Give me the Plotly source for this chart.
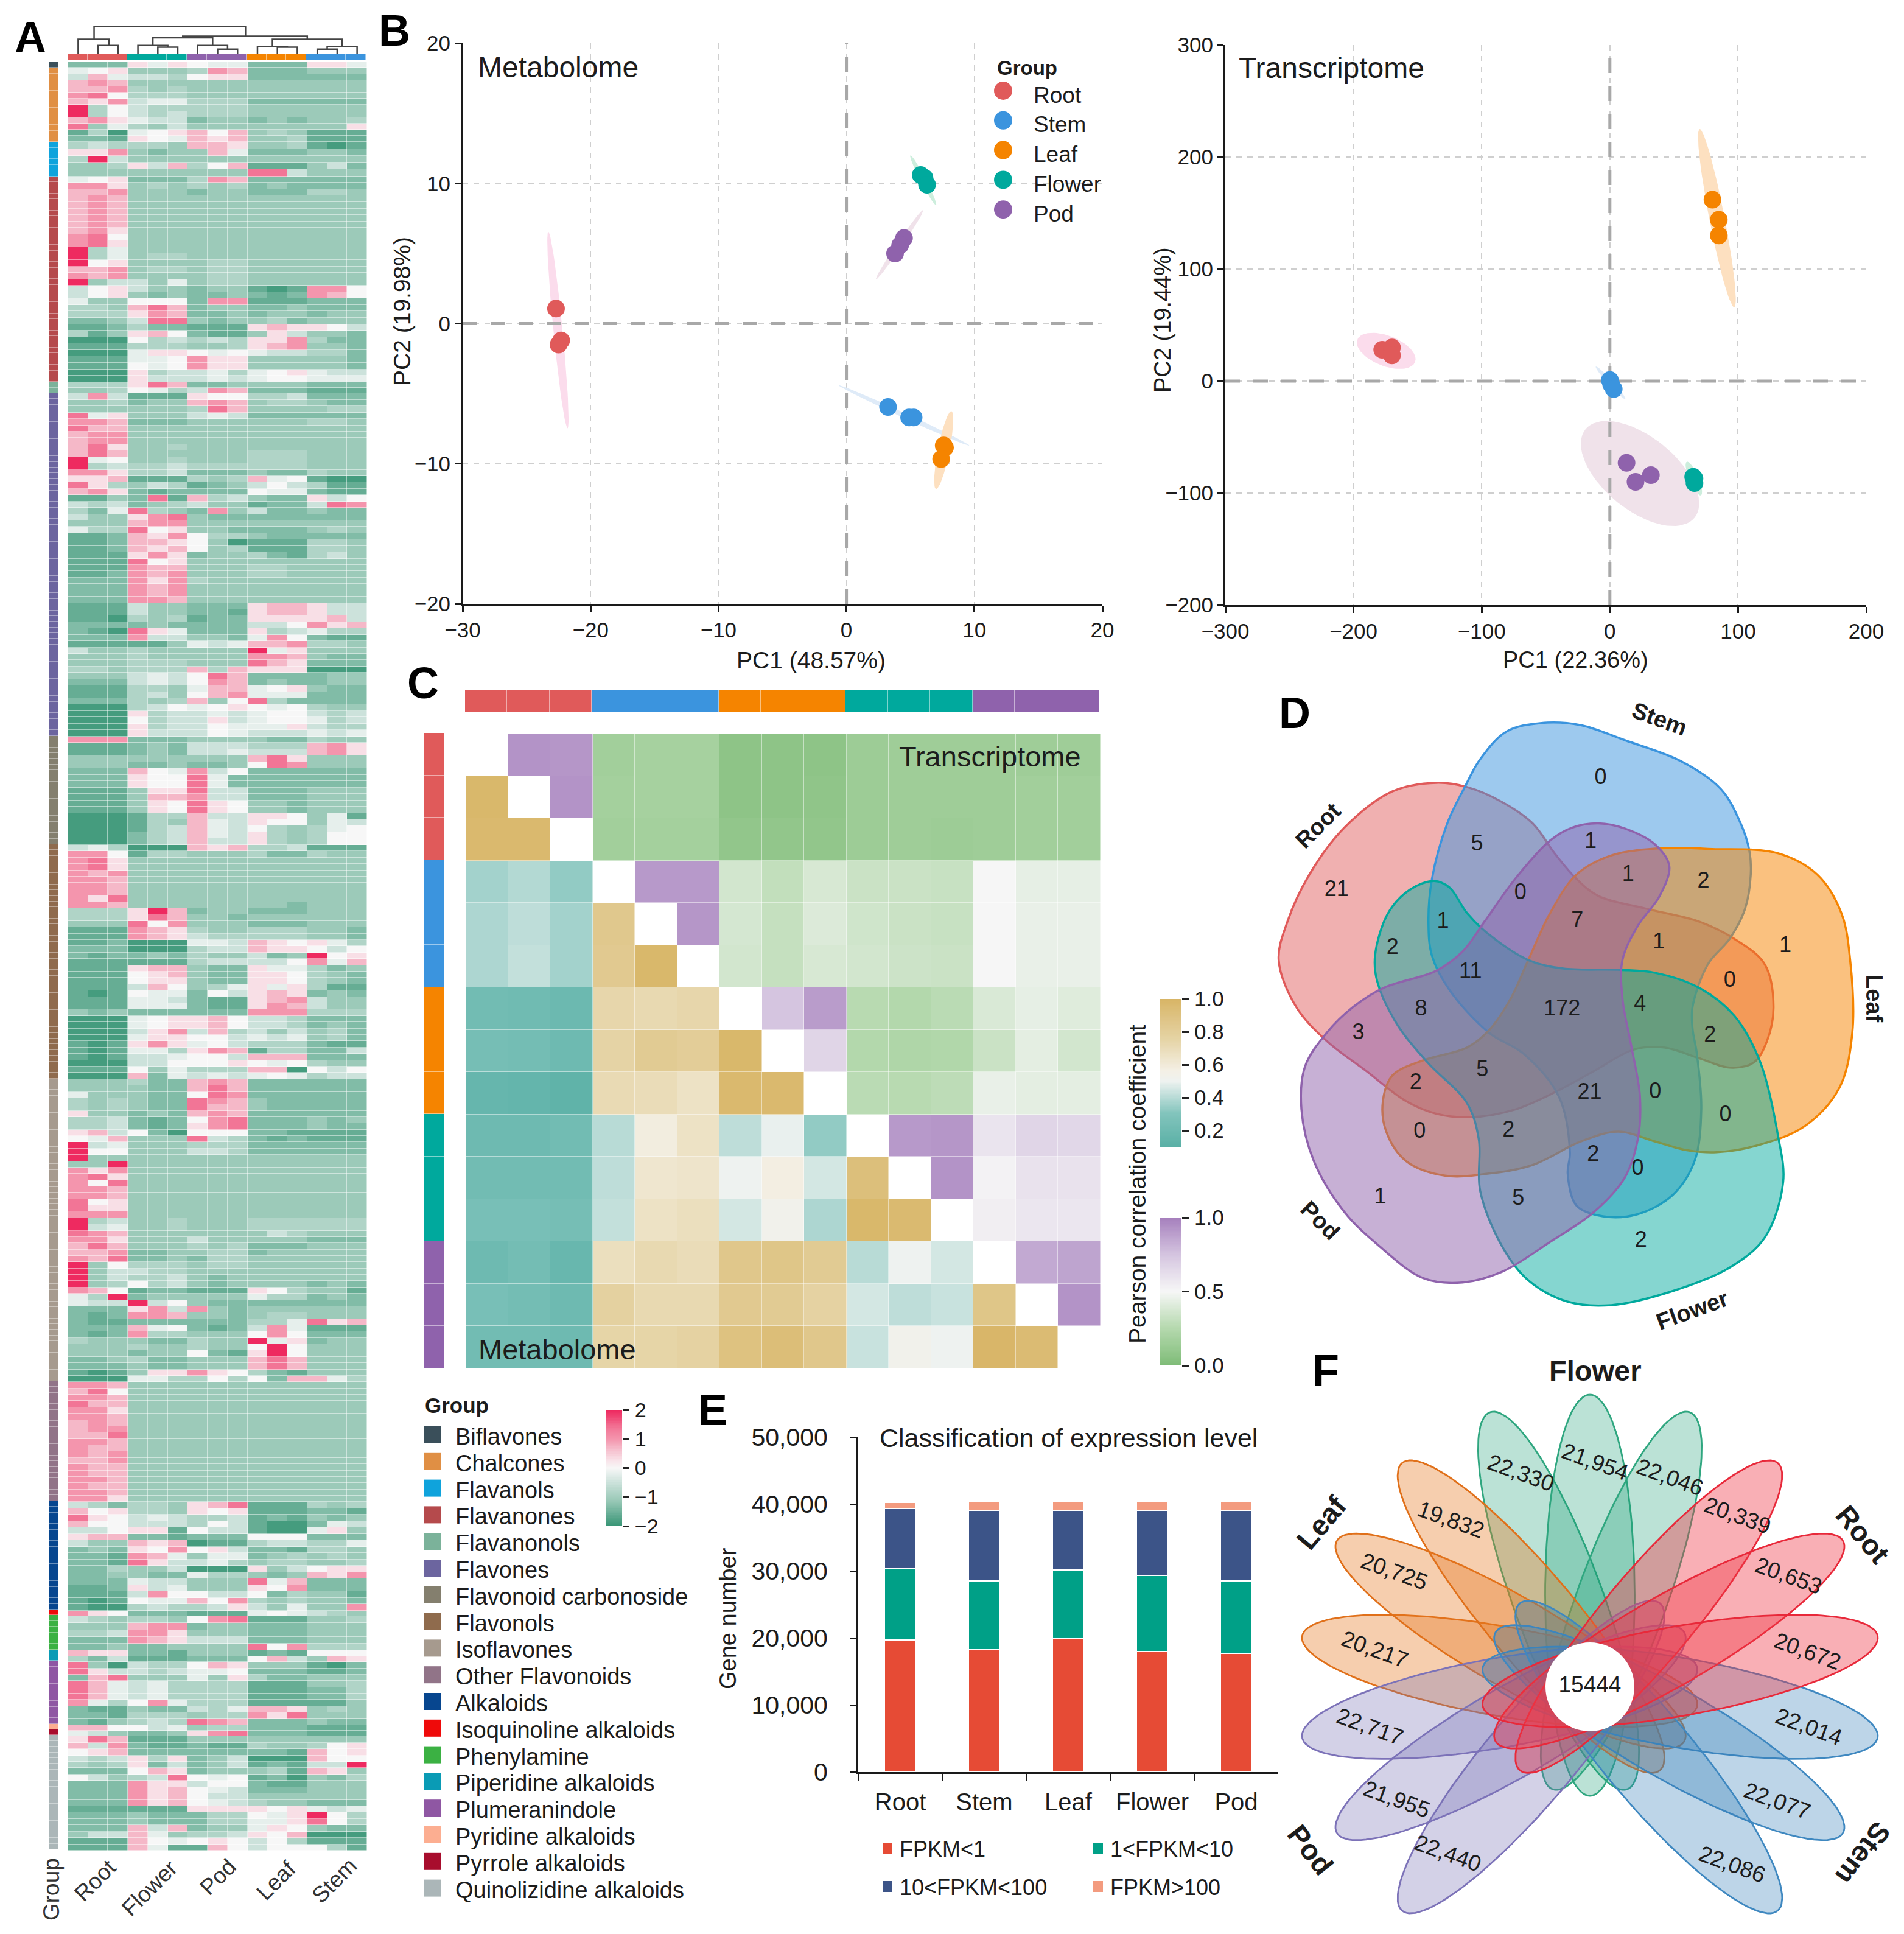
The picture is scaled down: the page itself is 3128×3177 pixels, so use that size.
import numpy as np
import plotly.graph_objects as go

W, H = 3128, 3177
FONT = "Liberation Sans"

# ---- Panel A: heatmap, one string per band of rows, columns are Root, Flower, Pod, Leaf, Stem
# characters are an index into heat_levels
heat_levels = [-1.9, -1.6, -1.35, -1.1, -0.85, -0.5, -0.2, 0, 0.3, 0.7, 1.0, 1.4, 2.0]
heat_cols = ["Root", "Flower", "Pod", "Leaf", "Stem"]

heat_biflavones = ["222 868 766 222 886"]
heat_chalcones = [
    "678 333 4a9 222 333", "596 554 788 222 222", "9a9 333 333 333 333", "99a 434 333 333 333",
    "ab7 444 333 333 333", "98a 566 444 222 222", "c47 544 444 333 333", "c47 545 444 333 333",
    "9a8 655 233 232 334", "b36 435 333 333 338", "140 678 979 343 111", "221 876 989 334 111",
]
heat_flavanols = [
    "454 443 998 334 101", "88a 323 396 222 332", "4c5 333 333 333 333",
    "334 859 479 111 352", "333 333 333 bb5 333",
]
heat_flavanones = [
    "678 222 4a9 222 222", "aa8 343 434 232 222", "99a 333 233 222 443", "9a9 333 333 333 333",
    "9a9 333 333 333 333", "9a9 333 333 333 333", "9a9 333 333 333 333", "9a9 333 333 333 333",
    "9a8 333 333 333 333", "ab7 333 333 333 333", "ab8 333 333 333 333", "c46 333 333 333 333",
    "c46 344 333 333 333", "c78 333 344 333 333", "99a 344 344 333 333", "a9a 333 344 333 333",
    "c35 536 344 333 333", "578 533 233 101 aa7", "578 323 223 212 a97", "633 777 2aa 111 222",
    "443 9b9 233 223 222", "444 8a9 223 233 233", "223 5bb 323 342 333", "112 422 111 898 875",
    "413 897 211 385 332", "000 745 454 88a 422", "111 444 334 89a 332", "000 688 767 655 442",
    "111 667 a88 333 332", "111 767 a88 333 332", "000 845 564 678 655", "000 855 565 677 666",
]
heat_flavanonols = ["444 8b9 223 333 222", "334 764 5a9 222 111"]
heat_flavones = [
    "5a5 111 877 445 222", "334 233 9a9 344 322", "333 333 4b9 333 344", "b68 333 565 222 222",
    "aa9 222 333 333 443", "b99 333 333 333 333", "9aa 333 333 333 333", "9aa 333 333 333 333",
    "9b8 334 333 333 333", "9b9 333 333 444 333", "c67 334 333 444 333", "c45 445 444 444 333",
    "aa8 445 222 322 433", "889 111 434 967 100", "b84 354 123 575 411", "9a8 212 222 766 211",
    "113 2b1 945 322 857", "545 234 533 122 5ba", "426 b43 2a3 522 322", "533 8ab 322 222 222",
    "333 9aa 333 333 333", "644 b78 332 222 343", "112 98a 744 322 222", "112 998 730 111 443",
    "112 989 734 111 443", "111 8a8 233 421 453", "111 b78 333 333 333", "111 a99 333 443 333",
    "112 a9a 333 443 333", "222 a8a 433 333 333", "222 a9a 333 333 333", "222 a9a 333 333 333",
    "222 aa9 333 333 333", "111 533 222 899 855", "111 533 221 899 855", "110 434 122 888 895",
    "222 232 222 557 a89", "210 b86 222 845 644", "222 a55 332 6a7 211", "111 113 656 99a 443",
    "533 433 333 c68 333", "333 433 333 aa9 322", "333 444 333 b98 222", "443 444 949 888 000",
    "333 565 7b9 222 233", "222 565 7a9 232 233", "111 443 699 678 322", "111 453 79a 666 222",
    "222 434 937 b42 222", "000 457 678 767 433", "000 845 565 677 545", "000 745 585 677 645",
    "000 845 576 668 544", "000 855 576 555 656",
]
heat_carbonoside = [
    "aaa 222 333 322 433", "111 232 555 444 9a8", "111 232 556 555 9a8", "333 333 333 9b8 333",
    "333 223 223 7ba 333", "222 976 a57 222 222", "222 877 b62 222 222", "222 877 b62 222 222",
    "111 388 b55 222 333", "111 399 a55 222 333", "111 387 b87 332 333", "111 387 b87 332 333",
    "000 144 955 887 361", "000 143 965 877 365", "000 145 965 743 467", "000 245 965 843 477",
    "000 245 955 843 477",
]
heat_flavonols = [
    "564 000 989 445 111", "aa7 144 333 422 433", "ab8 333 333 333 333", "ab8 333 333 333 333",
    "a9a 333 333 333 333", "aa9 333 333 333 333", "aa9 333 333 333 333", "aa9 333 333 333 333",
    "a8b 333 333 333 333", "aa9 333 333 332 333", "444 8c9 233 222 333", "444 8b9 332 333 333",
    "333 b7a 333 222 333", "111 a98 433 444 332", "111 a98 544 444 332", "112 000 665 987 864",
    "222 000 455 988 757", "212 232 433 523 c78", "111 111 455 557 a69", "111 899 322 866 423",
    "111 789 322 887 432", "111 788 322 887 432", "111 597 346 868 411", "101 766 275 898 232",
    "111 665 211 89a 533", "111 666 211 8a9 533", "323 222 222 aaa 444", "000 678 897 554 222",
    "000 678 897 554 232", "000 58a 594 535 342", "000 688 775 656 342", "101 8a8 675 444 211",
    "101 664 8a9 144 225", "101 556 775 999 222", "000 557 778 767 433", "111 736 444 990 757",
    "000 926 565 676 455",
]
heat_isoflavones = [
    "333 422 9a9 222 222", "333 322 9b9 222 222", "633 322 7ba 222 222", "434 322 ba9 322 222",
    "434 322 b99 322 222", "833 232 9a9 222 222", "445 212 7ab 222 323", "445 212 8ab 222 322",
    "895 720 777 221 111", "769 333 b54 212 111", "c56 333 444 222 222", "c77 333 554 222 222",
    "c33 333 333 333 333", "33c 333 333 333 333", "a8a 333 333 333 333", "ab8 333 333 333 333",
    "a7b 333 333 333 333", "aa9 333 333 333 333", "aa9 333 333 333 333", "b78 333 333 333 333",
    "b88 333 333 333 333", "aaa 333 333 333 333", "c45 334 333 444 444", "c56 334 333 444 444",
    "ba9 333 333 354 333", "aa8 333 533 333 222", "9b9 333 434 222 333", "99a 223 344 233 333",
    "a9b 223 244 333 333", "c37 444 344 333 333", "c35 544 333 333 333", "c35 445 323 333 333",
    "c34 745 323 333 232", "a97 122 111 874 331", "64c 233 333 644 232", "655 c57 322 222 222",
    "222 8a5 a32 333 333", "212 aa9 332 344 333", "211 222 222 446 b89", "222 967 212 5a6 111",
    "212 a44 333 7a7 222", "433 322 433 c68 233", "333 433 433 7c7 333", "333 233 721 8c7 333",
    "223 422 333 9b9 333", "222 322 333 9b9 333", "101 388 a87 421 333", "000 664 474 729 964",
]
heat_other = [
    "aa9 333 333 333 333", "9b7 333 333 333 333", "aa9 333 333 333 333", "b99 333 333 333 333",
    "aa8 333 333 333 333", "aa9 333 333 333 333", "9a9 333 333 333 333", "9aa 333 333 333 333",
    "99b 333 333 333 333", "aa9 333 333 333 333", "a99 333 333 333 333", "a9a 333 333 333 333",
    "99a 333 333 333 333", "a99 333 333 333 333", "a99 333 333 333 333", "aa9 333 333 333 333",
    "a99 333 333 333 333", "aa9 333 333 333 333", "aa8 333 333 333 333",
]
heat_alkaloids = [
    "542 443 89b 111 434", "978 443 878 111 221", "b87 565 445 121 323", "977 555 475 100 265",
    "557 881 755 100 683", "899 221 222 777 222", "533 989 011 455 446", "232 87a 785 221 443",
    "221 a96 366 234 343", "221 b85 564 344 334", "224 335 000 835 788", "223 322 644 323 98a",
    "222 655 333 b69 222", "112 856 333 87a 222", "111 5a7 755 724 331", "101 766 97a 434 332",
    "100 454 458 536 33a",
]
heat_isoquinoline = ["a87 222 111 676 543"]
heat_phenylamine = [
    "543 443 7ab 111 334", "333 9aa 233 222 333", "445 aa8 333 222 333",
    "222 a98 555 222 333", "223 223 333 b7a 444",
]
heat_piperidine = ["988 221 333 121 777", "425 111 222 795 398"]
heat_plumeranindole = [
    "b30 544 798 333 102", "b85 545 667 222 112", "29b 333 638 422 333", "b96 564 444 111 334",
    "b96 564 444 111 224", "b96 564 444 111 224", "a64 7a6 444 111 113", "211 322 546 998 343",
    "221 444 344 a8b 333", "213 454 ba9 222 322",
]
heat_pyridine = ["997 756 344 222 111"]
heat_pyrrole = ["653 223 8ab 222 111"]
heat_quinolizidine = [
    "8b9 111 333 333 333", "95a 211 211 433 478", "789 222 222 221 978", "545 848 235 000 977",
    "434 825 235 121 55c", "222 798 233 341 983", "753 45b 767 120 324", "222 a88 577 211 333",
    "222 a89 765 222 333", "222 a89 755 333 333", "222 a89 765 433 222", "111 111 888 878 656",
    "222 322 244 768 c74", "222 322 244 668 b74", "222 959 233 687 322", "355 963 445 879 000",
    "111 976 787 574 111", "111 961 197 577 741",
]

heat_sections = [
    heat_biflavones, heat_chalcones, heat_flavanols, heat_flavanones, heat_flavanonols, heat_flavones,
    heat_carbonoside, heat_flavonols, heat_isoflavones, heat_other, heat_alkaloids, heat_isoquinoline,
    heat_phenylamine, heat_piperidine, heat_plumeranindole, heat_pyridine, heat_pyrrole, heat_quinolizidine,
]
class_names = ["Biflavones", "Chalcones", "Flavanols", "Flavanones", "Flavanonols", "Flavones",
               "Flavonoid carbonoside", "Flavonols", "Isoflavones", "Other Flavonoids", "Alkaloids",
               "Isoquinoline alkaloids", "Phenylamine", "Piperidine alkaloids", "Plumeranindole",
               "Pyridine alkaloids", "Pyrrole alkaloids", "Quinolizidine alkaloids"]
class_rows = [1, 13, 6, 36, 2, 60, 19, 41, 53, 21, 19, 1, 6, 2, 11, 1, 1, 20]
class_colors = ["#3a4f5a", "#e08f44", "#0fa3dc", "#b54a4c", "#7bb29a", "#6c659f", "#847f6e", "#8f6b4d", "#a69a8e",
                "#917488", "#07468f", "#ef0a0a", "#3bb143", "#0a9bb5", "#8f57a3", "#fcae91", "#a80d2d", "#abb6b8"]

# tree over the 15 heatmap columns: left x, right x, left height, right height, top
dendro_links = [
    (1.5, 2.5, 0, 0, .30), (0.5, 2.05, 0, .30, .53),
    (4.5, 5.5, 0, 0, .24), (3.5, 5.0, 0, .24, .30),
    (7.5, 8.5, 0, 0, .17), (6.5, 8.0, 0, .17, .30),
    (4.25, 7.25, .30, .30, .58),
    (10.5, 11.5, 0, 0, .24), (9.5, 11.0, 0, .24, .26),
    (12.5, 13.5, 0, 0, .17), (13.0, 14.5, .17, 0, .26),
    (10.25, 13.75, .26, .26, .53),
    (5.75, 12.0, .58, .53, .64),
    (1.3, 8.9, .53, .64, 1.0),
]

# ---- Panel B
groups = ["Root", "Stem", "Leaf", "Flower", "Pod"]
group_colors = ["#e05a5a", "#3b94de", "#f58400", "#00a99d", "#8f62ac"]
ellipse_colors = ["#fbdcec", "#dfebf8", "#fde0c0", "#cdeedd", "#f0e2ea"]

met_x = [[-22.7, -22.3, -22.5], [3.25, 4.9, 5.25], [7.6, 7.7, 7.4], [5.8, 6.1, 6.3], [4.5, 4.2, 3.8]]
met_y = [[1.07, -1.2, -1.5], [-5.95, -6.7, -6.7], [-8.7, -8.85, -9.66], [10.6, 10.4, 9.9], [6.1, 5.6, 5.0]]
met_ellipses = [(-23.3, 6.55, -21.8, -7.47, 15), (-0.6, -4.4, 9.6, -8.7, 8), (8.2, -6.25, 7.0, -11.8, 19),
                (5.0, 12.0, 7.0, 8.45, 9), (6.0, 8.1, 2.3, 3.15, 9)]

tra_x = [[-177.6, -170, -170], [0, 1, 3], [80, 85, 85], [65, 66, 66], [13, 20, 32]]
tra_y = [[28, 30, 23], [1, -3, -7], [162, 144, 130], [-85.5, -87, -91], [-73, -90, -84]]
tra_ellipses = [(-197, 37, -152, 17, 50), (-11, 13, 12, -16, 8), (70, 225, 97, 66, 25),
                (60, -72, 71, -102, 15), (-19, -43, 66, -122, 120)]

# ---- Panel C, lower triangle metabolome, upper triangle transcriptome, order Root..Pod
metabolome_lower = [
    [],
    [.98],
    [.97, .97],
    [.36, .39, .33],
    [.38, .41, .36, .85],
    [.38, .42, .36, .84, .98],
    [.22, .21, .19, .74, .72, .74],
    [.24, .23, .20, .76, .83, .81, .98],
    [.16, .15, .13, .71, .70, .66, .97, .97],
    [.20, .20, .22, .40, .58, .66, .41, .49, .33],
    [.22, .22, .22, .41, .63, .64, .50, .57, .45, .92],
    [.25, .25, .24, .42, .66, .68, .45, .53, .38, .98, .96],
    [.20, .23, .17, .68, .72, .70, .86, .87, .83, .40, .50, .45],
    [.25, .23, .20, .78, .72, .72, .84, .83, .77, .45, .41, .43, .87],
    [.22, .22, .20, .75, .75, .77, .90, .93, .86, .43, .53, .50, .99, .95],
]
transcriptome_upper = [
    [.93, .92, .16, .18, .18, .07, .07, .07, .14, .15, .15, .15, .15, .15],
    [.93, .17, .18, .18, .07, .07, .08, .14, .15, .15, .15, .16, .16],
    [.16, .17, .17, .09, .09, .09, .14, .15, .14, .15, .16, .16],
    [.91, .91, .36, .30, .38, .33, .33, .32, .50, .44, .44],
    [.92, .37, .31, .40, .35, .33, .32, .50, .45, .45],
    [.36, .31, .38, .36, .34, .33, .50, .45, .45],
    [.75, .90, .26, .24, .27, .39, .44, .41],
    [.67, .24, .22, .23, .33, .43, .36],
    [.27, .26, .28, .45, .43, .43],
    [.91, .92, .59, .67, .66],
    [.93, .52, .60, .60],
    [.54, .58, .58],
    [.85, .87],
    [.93],
    [],
]

# ---- Panel D, outlines, in venn axis units
venn_stem = [(565, 275), (600, 210), (660, 145), (740, 125), (830, 130), (930, 165), (1060, 215), (1150, 280),
             (1195, 360), (1215, 425), (1218, 480), (1205, 560), (1170, 630), (1120, 690), (1085, 790), (1085, 840),
             (1095, 900), (1105, 1030), (1090, 1150), (1040, 1230), (960, 1275), (880, 1280), (820, 1255), (800, 1180),
             (805, 1130), (780, 1000), (700, 900), (620, 850), (530, 750), (490, 670), (482, 590), (490, 490), (525, 360)]
venn_root = [(500, 265), (570, 275), (650, 310), (720, 360), (770, 430), (820, 490), (870, 530), (980, 560),
             (1100, 590), (1180, 630), (1250, 690), (1270, 790), (1255, 870), (1225, 920), (1170, 932), (1100, 910),
             (1020, 885), (950, 890), (860, 940), (770, 990), (680, 1030), (580, 1048), (500, 1040), (430, 1010),
             (340, 940), (250, 870), (180, 790), (140, 680), (160, 590), (210, 480), (290, 370), (400, 285)]
venn_leaf = [(1020, 418), (1130, 420), (1280, 430), (1370, 480), (1425, 570), (1445, 680), (1450, 850), (1420, 980),
             (1340, 1070), (1230, 1115), (1140, 1130), (1070, 1125), (1000, 1105), (915, 1082), (830, 1105), (720, 1160),
             (620, 1180), (520, 1185), (430, 1150), (385, 1080), (378, 1010), (400, 950), (470, 915), (570, 885),
             (620, 845), (670, 770), (710, 680), (760, 570), (820, 480), (900, 435)]
venn_flower = [(495, 495), (530, 510), (570, 570), (620, 620), (710, 680), (790, 700), (920, 703), (1000, 710),
               (1100, 745), (1180, 810), (1240, 920), (1280, 1090), (1292, 1200), (1250, 1330), (1170, 1400), (1040, 1455),
               (900, 1488), (800, 1480), (710, 1430), (650, 1350), (600, 1220), (597, 1100), (570, 1015), (480, 920),
               (410, 830), (365, 730), (360, 670), (390, 570), (440, 515)]
venn_pod = [(870, 360), (930, 372), (1000, 410), (1032, 460), (1010, 530), (960, 600), (925, 680), (925, 770),
            (945, 880), (965, 1000), (960, 1100), (930, 1190), (860, 1270), (760, 1340), (650, 1410), (560, 1435),
            (470, 1425), (370, 1350), (290, 1270), (220, 1150), (192, 1030), (200, 930), (250, 850), (310, 790),
            (380, 745), (500, 705), (560, 660), (610, 590), (680, 490), (760, 400), (810, 370)]
venn_counts = ["0", "5", "1", "21", "0", "1", "2", "1", "7", "1", "1", "2", "11", "0", "8", "172", "4", "3", "2", "5",
               "2", "21", "0", "0", "0", "2", "2", "0", "1", "5", "2"]
venn_cx = [875, 593, 852, 272, 692, 938, 1110, 515, 822, 1008, 1297, 400, 578, 1170, 465, 787, 965, 322, 1125, 605,
           453, 850, 1000, 1160, 462, 665, 858, 960, 372, 687, 967]
venn_cy = [255, 410, 405, 518, 525, 482, 498, 592, 590, 640, 648, 653, 710, 730, 797, 797, 785, 852, 858, 940,
           970, 992, 990, 1045, 1083, 1080, 1138, 1170, 1238, 1240, 1338]

# ---- Panel E
expr_cats = ["Root", "Stem", "Leaf", "Flower", "Pod"]
fpkm_lt1 = [19700, 18240, 19900, 17970, 17700]
fpkm_1_10 = [10800, 10330, 10270, 11430, 10870]
fpkm_10_100 = [8900, 10530, 8930, 9700, 10530]
fpkm_gt100 = [900, 1230, 1230, 1230, 1230]

# ---- Panel F
petal_groups = ["Flower", "Leaf", "Pod", "Stem", "Root"]
petal_angles = [[-20, 0, 20], [280, 300, 320], [220, 240, 260], [100, 120, 140], [40, 60, 80]]
petal_fills = ["rgba(30,160,120,0.30)", "rgba(230,120,30,0.36)", "rgba(117,112,179,0.32)",
               "rgba(55,126,184,0.33)", "rgba(240,55,70,0.40)"]
petal_lines = ["#2fa67f", "#e0701a", "#7c72b8", "#3f88c0", "#e8293a"]
petal_labels = ["22,330", "21,954", "22,046", "20,339", "20,653", "20,672", "22,014", "22,077", "22,086",
                "22,440", "21,955", "22,717", "20,217", "20,725", "19,832"]
petal_label_x = [652, 830, 1008, 1170, 1292, 1337, 1340, 1265, 1157, 478, 355, 292, 303, 350, 485]
petal_label_y = [377, 348, 387, 487, 642, 838, 1033, 1225, 1388, 1360, 1220, 1033, 832, 632, 498]
core_count = "15444"


def dom_x(a, b):
    return [a / W, b / W]


def dom_y(top, bottom):
    return [1 - bottom / H, 1 - top / H]


annotations = []
shapes = []


def note(x, y, text, size=35, angle=0, bold=False, anchor="center", color="#1c1c1c"):
    annotations.append(dict(x=x / W, y=1 - y / H, xref="paper", yref="paper", showarrow=False,
                            text="<b>%s</b>" % text if bold else text, textangle=angle,
                            font=dict(family=FONT, size=size, color=color), xanchor=anchor, yanchor="middle"))


def swatch(x0, y0, x1, y1, color, kind="rect"):
    shapes.append(dict(type=kind, xref="paper", yref="paper", x0=x0 / W, x1=x1 / W, y0=1 - y1 / H, y1=1 - y0 / H,
                       fillcolor=color, line=dict(width=0)))


def hidden_axes(fig, n, xd, yd, xr, yr):
    fig.update_layout({
        "xaxis%d" % n: dict(domain=xd, range=xr, visible=False, anchor="y%d" % n, fixedrange=True),
        "yaxis%d" % n: dict(domain=yd, range=yr, visible=False, anchor="x%d" % n, fixedrange=True),
    })


def color_key(fig, n, xpx, ypx, lo, hi, scale, tickvals, tickformat, size):
    # gradient key on its own axes
    levels = np.linspace(lo, hi, 120)
    steps = np.linspace(lo, hi, 121)
    fig.add_trace(go.Heatmap(z=[[v] for v in levels], x=[0, 1], y=steps, xaxis="x%d" % n, yaxis="y%d" % n, zmin=lo, zmax=hi,
                             colorscale=scale, showscale=False, hoverinfo="skip"))
    fig.update_layout({
        "xaxis%d" % n: dict(domain=dom_x(*xpx), range=[0, 1], visible=False, anchor="y%d" % n, fixedrange=True),
        "yaxis%d" % n: dict(domain=dom_y(*ypx), range=[lo, hi], side="right", anchor="x%d" % n, fixedrange=True,
                            tickvals=tickvals, tickformat=tickformat, ticks="outside", ticklen=11, tickwidth=2.5,
                            tickcolor="#222", showgrid=False, zeroline=False, showline=False, ticklabelstandoff=2,
                            tickfont=dict(family=FONT, size=size, color="#1c1c1c")),
    })


def ellipse(x1, y1, x2, y2, w, sx, sy):
    # sx, sy are pixels per data unit, w is the minor axis in pixels
    t = np.linspace(0, 2 * np.pi, 73)
    ax, ay = (x2 - x1) * sx / 2, (y2 - y1) * sy / 2
    n = np.hypot(ax, ay)
    bx, by = -ay / n * w / 2, ax / n * w / 2
    px = ax * np.cos(t) + bx * np.sin(t)
    py = ay * np.cos(t) + by * np.sin(t)
    return (x1 + x2) / 2 + px / sx, (y1 + y2) / 2 + py / sy


# the default template turns automargin on, that would squeeze the hand placed panels
fig = go.Figure(layout=dict(template="none"))

# ---- A heatmap
edges = [0.0]
heat_z = []
for section, n_rows in zip(heat_sections, class_rows):
    for row in section:
        chars = row.replace(" ", "")
        assert len(chars) == 15, row
        heat_z.append([heat_levels[int(c, 16)] for c in chars])
        edges.append(edges[-1] + n_rows / len(section))

heat_scale = [[0, "#3a9677"], [.225, "#9ccab9"], [.375, "#cce2db"], [.5, "#f7f7f7"], [.575, "#f8dfe6"],
              [.675, "#f5b8c8"], [.75, "#f495ad"], [.85, "#f27596"], [1, "#ee2a60"]]
fig.add_trace(go.Heatmap(z=heat_z, x=list(range(16)), y=edges, xaxis="x1", yaxis="y1", zmin=-2, zmax=2,
                         colorscale=heat_scale, showscale=False, xgap=0.5, ygap=0.5, hoverinfo="skip"))
hidden_axes(fig, 1, dom_x(112, 603), dom_y(102, 3040), [0, 15], [edges[-1], 0])
color_key(fig, 13, (995, 1022), (2316, 2507), -2, 2, heat_scale, [-2, -1, 0, 1, 2], "d", 34)

# class strip on the left
strip_z = []
for i, n_rows in enumerate(class_rows):
    strip_z += [[i]] * n_rows
n_cls = len(class_colors)
strip_scale = []
for i, c in enumerate(class_colors):
    strip_scale += [[i / n_cls, c], [(i + 1) / n_cls, c]]
fig.add_trace(go.Heatmap(z=strip_z, x=[0, 1], y=list(range(sum(class_rows) + 1)), xaxis="x2", yaxis="y2", zmin=-0.5,
                         zmax=n_cls - 0.5, colorscale=strip_scale, showscale=False, ygap=0.4, hoverinfo="skip"))
hidden_axes(fig, 2, dom_x(80, 96), dom_y(102, 3038), [0, 1], [sum(class_rows), 0])

# group strip on top, columns are Root, Flower, Pod, Leaf, Stem
top_z = [[groups.index(g) for g in heat_cols for _ in range(3)]]
group_scale = []
for i, c in enumerate(group_colors):
    group_scale += [[i / 5, c], [(i + 1) / 5, c]]
fig.add_trace(go.Heatmap(z=top_z, x=list(range(16)), y=[0, 1], xaxis="x3", yaxis="y3", zmin=-0.5, zmax=4.5,
                         colorscale=group_scale, showscale=False, xgap=0.5, hoverinfo="skip"))
hidden_axes(fig, 3, dom_x(111, 601), dom_y(88.5, 98), [0, 15], [0, 1])

# dendrogram
dx, dy = [], []
for x1, x2, h1, h2, top in dendro_links:
    dx += [x1, x1, x2, x2, None]
    dy += [h1, top, top, h2, None]
fig.add_trace(go.Scatter(x=dx, y=dy, mode="lines", xaxis="x4", yaxis="y4", line=dict(color="#444", width=2.5),
                         hoverinfo="skip", showlegend=False))
hidden_axes(fig, 4, dom_x(112, 603), dom_y(43, 88.5), [0, 15], [0, 1])

# ---- B PCA plots
pca_axes = [
    (5, (760, 1811), (71, 992), (-30, 20), (-20, 20), 10, 10, met_x, met_y, met_ellipses),
    (6, (2013, 3066), (74, 994), (-300, 200), (-200, 300), 100, 100, tra_x, tra_y, tra_ellipses),
]
for n, xpx, ypx, xr, yr, dtx, dty, xs, ys, ells in pca_axes:
    sx = (xpx[1] - xpx[0]) / (xr[1] - xr[0])
    sy = (ypx[1] - ypx[0]) / (yr[1] - yr[0])
    for g, (e, col) in enumerate(zip(ells, ellipse_colors)):
        ex, ey = ellipse(*e, sx, sy)
        fig.add_trace(go.Scatter(x=ex, y=ey, mode="lines", fill="toself", fillcolor=col, line=dict(width=0),
                                 xaxis="x%d" % n, yaxis="y%d" % n, hoverinfo="skip", showlegend=False))
    fig.add_trace(go.Scatter(x=list(xr), y=[0, 0], mode="lines", xaxis="x%d" % n, yaxis="y%d" % n, hoverinfo="skip",
                             line=dict(color="#a8a8a8", width=5, dash="24px,22px"), showlegend=False))
    fig.add_trace(go.Scatter(x=[0, 0], y=list(yr), mode="lines", xaxis="x%d" % n, yaxis="y%d" % n, hoverinfo="skip",
                             line=dict(color="#a8a8a8", width=5, dash="24px,22px"), showlegend=False))
    for g, col in enumerate(group_colors):
        fig.add_trace(go.Scatter(x=xs[g], y=ys[g], mode="markers", xaxis="x%d" % n, yaxis="y%d" % n, name=groups[g],
                                 marker=dict(color=col, size=29), hoverinfo="skip", showlegend=False))
    axis_style = dict(showline=True, linecolor="#1a1a1a", linewidth=3, ticks="outside", ticklen=10, tickwidth=3,
                      tickcolor="#1a1a1a", showgrid=True, gridcolor="#cfcfcf", griddash="dash", gridwidth=2,
                      zeroline=False, fixedrange=True, tickfont=dict(family=FONT, size=35, color="#1c1c1c"))
    fig.update_layout({
        "xaxis%d" % n: dict(domain=dom_x(*xpx), range=list(xr), dtick=dtx, tick0=xr[0], anchor="y%d" % n, **axis_style),
        "yaxis%d" % n: dict(domain=dom_y(*ypx), range=list(yr), dtick=dty, tick0=yr[0], anchor="x%d" % n, **axis_style),
    })

note(783, 110, "Metabolome", 48, anchor="left")
note(1332, 1084, "PC1 (48.57%)", 39)
note(661, 512, "PC2 (19.98%)", 39, angle=-90)
note(2033, 111, "Transcriptome", 48, anchor="left")
note(2588, 1084, "PC1 (22.36%)", 38)
note(1910, 526, "PC2 (19.44%)", 38, angle=-90)
note(1687, 111, "Group", 33, bold=True)
for i, g in enumerate(groups):
    cy = 149 + i * 48.8
    swatch(1633, cy - 15, 1663, cy + 15, group_colors[i], "circle")
    note(1696, cy + 7, g, 37, anchor="left")

# ---- C correlation matrix
size = 15
low = np.full((size, size), np.nan)
up = np.full((size, size), np.nan)
for r, row in enumerate(metabolome_lower):
    for c, v in enumerate(row):
        low[r][c] = v
for r, row in enumerate(transcriptome_upper):
    for k, v in enumerate(row):
        up[r][r + 1 + k] = v

low_scale = [[0, "#5ab0a6"], [.222, "#82c4bc"], [.444, "#eef2f0"], [.51, "#f4f0e6"], [.72, "#e6d5a8"], [1, "#d8b566"]]
up_scale = [[0, "#7fbc78"], [.25, "#b5d9ae"], [.5, "#f6f6f6"], [.75, "#d5c5e0"], [1, "#a680bd"]]
fig.add_trace(go.Heatmap(z=low.tolist(), x=list(range(16)), y=list(range(16)), xaxis="x7", yaxis="y7", zmin=.1, zmax=1,
                         colorscale=low_scale, showscale=False, xgap=0.5, ygap=0.5, hoverinfo="skip"))
fig.add_trace(go.Heatmap(z=up.tolist(), x=list(range(16)), y=list(range(16)), xaxis="x7", yaxis="y7", zmin=0, zmax=1,
                         colorscale=up_scale, showscale=False, xgap=0.5, ygap=0.5, hoverinfo="skip"))
hidden_axes(fig, 7, dom_x(765, 1808), dom_y(1205, 2248), [0, 15], [15, 0])
color_key(fig, 14, (1906, 1941), (1641, 1884), 0.1, 1, low_scale, [.2, .4, .6, .8, 1], ".1f", 35)
color_key(fig, 15, (1906, 1941), (2000, 2243), 0, 1, up_scale, [0, .5, 1], ".1f", 35)

c_ids = [g for g in range(5) for _ in range(3)]
fig.add_trace(go.Heatmap(z=[c_ids], x=list(range(16)), y=[0, 1], xaxis="x8", yaxis="y8", zmin=-0.5, zmax=4.5,
                         colorscale=group_scale, showscale=False, xgap=0.5, hoverinfo="skip"))
hidden_axes(fig, 8, dom_x(764, 1806), dom_y(1134, 1169), [0, 15], [0, 1])
fig.add_trace(go.Heatmap(z=[[v] for v in c_ids], x=[0, 1], y=list(range(16)), xaxis="x9", yaxis="y9", zmin=-0.5, zmax=4.5,
                         colorscale=group_scale, showscale=False, ygap=0.5, hoverinfo="skip"))
hidden_axes(fig, 9, dom_x(696, 730), dom_y(1204, 2248), [0, 1], [15, 0])

note(1626, 1242, "Transcriptome", 47)
note(915, 2216, "Metabolome", 47)
note(1868, 1945, "Pearson correlation coefficient", 39, angle=-90)

# ---- class legend for A
note(696, 2308, "Group", 35, bold=True, anchor="left")
for i, name in enumerate(class_names):
    cy = 2357 + i * 43.8
    swatch(696, cy - 14, 724, cy + 14, class_colors[i])
    note(746, cy + 3, name, 38, anchor="left")

# ---- D venn
venn_sets = [("Root", venn_root, 0), ("Stem", venn_stem, 1), ("Leaf", venn_leaf, 2), ("Flower", venn_flower, 3),
             ("Pod", venn_pod, 4)]
venn_fills = ["rgba(224,90,90,0.48)", "rgba(59,148,222,0.50)", "rgba(245,132,0,0.50)", "rgba(0,169,157,0.48)",
              "rgba(143,98,172,0.50)"]
for name, pts, g in venn_sets:
    vx = [p[0] for p in pts] + [pts[0][0]]
    vy = [p[1] for p in pts] + [pts[0][1]]
    fig.add_trace(go.Scatter(x=vx, y=vy, mode="lines", fill="toself", fillcolor=venn_fills[g], xaxis="x11", yaxis="y11",
                             line=dict(color=group_colors[g], width=3.5, shape="spline", smoothing=1), name=name,
                             hoverinfo="skip", showlegend=False))
fig.add_trace(go.Scatter(x=venn_cx, y=venn_cy, text=venn_counts, mode="text", xaxis="x11", yaxis="y11", hoverinfo="skip",
                         textfont=dict(family=FONT, size=36, color="#1c1c1c"), showlegend=False))
hidden_axes(fig, 11, dom_x(2000, 3128), dom_y(1100, 2200), [0, 1568], [1568, 0])
venn_px = lambda zx, zy: (2000 + zx * 1128 / 1568, 1100 + zy * 1100 / 1568)
for zx, zy, t, a in [(1010, 115, "Stem", 20), (230, 365, "Root", -45), (1500, 770, "Leaf", 90),
                     (1085, 1500, "Flower", -20), (235, 1290, "Pod", 45)]:
    px, py = venn_px(zx, zy)
    note(px, py, t, 38, angle=a, bold=True)

# ---- E stacked bars
for vals, col, name in [(fpkm_lt1, "#e64b35", "FPKM<1"), (fpkm_1_10, "#00a087", "1<FPKM<10"),
                        (fpkm_10_100, "#3c5488", "10<FPKM<100"), (fpkm_gt100, "#f39b7f", "FPKM>100")]:
    fig.add_trace(go.Bar(x=expr_cats, y=vals, name=name, xaxis="x10", yaxis="y10", width=0.38, showlegend=False,
                         marker=dict(color=col, line=dict(color="white", width=2)), hoverinfo="skip"))
fig.update_layout(
    barmode="stack",
    xaxis10=dict(domain=dom_x(1410, 2100), anchor="y10", type="category", tickson="boundaries", ticks="outside", ticklen=11,
                 tickwidth=3, tickcolor="#1a1a1a", showline=True, linecolor="#1a1a1a", linewidth=3, showgrid=False,
                 ticklabelstandoff=12, range=[-0.5, 4.5], fixedrange=True, tickfont=dict(family=FONT, size=40, color="#1c1c1c")),
    yaxis10=dict(domain=dom_y(2361, 2911), anchor="x10", range=[0, 50000], tickvals=[0, 10000, 20000, 30000, 40000, 50000],
                 tickformat=",", ticks="outside", ticklen=11, tickwidth=3, tickcolor="#1a1a1a", showline=True,
                 linecolor="#1a1a1a", linewidth=3, showgrid=False, zeroline=False, fixedrange=True,
                 ticklabelstandoff=28, tickfont=dict(family=FONT, size=41, color="#1c1c1c")),
)
note(1755, 2362, "Classification of expression level", 43)
note(1196, 2659, "Gene number", 38, angle=-90)
for x0, y0, col, text in [(1450, 3036, "#e64b35", "FPKM<1"), (1796, 3036, "#00a087", "1<FPKM<10"),
                          (1450, 3099, "#3c5488", "10<FPKM<100"), (1796, 3099, "#f39b7f", "FPKM>100")]:
    swatch(x0, y0 - 9, x0 + 16, y0 + 9, col)
    note(x0 + 26, y0 + 1, text.replace("<", "&lt;").replace(">", "&gt;"), 36, anchor="left")

# ---- F flower plot
tip_r, tail_r, petal_w = 480, 179, 147
fc_x, fc_y = 562, 591
t = np.linspace(0, 2 * np.pi, 121)
for g, name in enumerate(petal_groups):
    for a in petal_angles[g]:
        th = np.radians(a)
        ux, uy = np.sin(th), -np.cos(th)
        mid = (tip_r - tail_r) / 2
        along = (tip_r + tail_r) / 2 * np.cos(t) + mid
        across = petal_w / 2 * np.sin(t)
        px = fc_x + along * ux - across * uy
        py = fc_y + along * uy + across * ux
        fig.add_trace(go.Scatter(x=px, y=py, mode="lines", fill="toself", fillcolor=petal_fills[g], xaxis="x12", yaxis="y12",
                                 line=dict(color=petal_lines[g], width=2.8), name=name, hoverinfo="skip", showlegend=False))
fig.add_trace(go.Scatter(x=[fc_x], y=[fc_y], text=[core_count], mode="markers+text", textposition="middle center",
                         xaxis="x12", yaxis="y12", marker=dict(color="white", size=146), hoverinfo="skip", showlegend=False,
                         textfont=dict(family=FONT, size=37, color="#1c1c1c")))
hidden_axes(fig, 12, dom_x(2050, 3128), dom_y(2180, 3177), [0, 1078], [997, 0])
flower_px = lambda zx, zy: (2050 + zx * 1078 / 1568, 2180 + zy * 997 / 1568)
for lab, zx, zy in zip(petal_labels, petal_label_x, petal_label_y):
    px, py = flower_px(zx, zy)
    note(px, py, lab, 37, angle=20)
for zx, zy, t_, a in [(830, 112, "Flower", 0), (175, 505, "Leaf", -50), (1470, 535, "Root", 50),
                      (1470, 1360, "Stem", 127), (150, 1350, "Pod", 52)]:
    px, py = flower_px(zx, zy)
    note(px, py, t_, 47, angle=a, bold=True)

# ---- panel letters and text under A
for x, y, letter in [(50, 61, "A"), (648, 50, "B"), (695, 1122, "C"), (2127, 1171, "D"), (1171, 2316, "E"), (2178, 2251, "F")]:
    note(x, y, letter, 72, bold=True, color="black")
for x, y, text in [(156, 3089, "Root"), (245, 3102, "Flower"), (358, 3083, "Pod"), (453, 3089, "Leaf"), (549, 3089, "Stem")]:
    note(x, y, text, 37, angle=-45, color="#333")
note(84, 3104, "Group", 37, angle=-90, color="#333")

fig.update_layout(width=W, height=H, margin=dict(l=0, r=0, t=0, b=0, pad=0), autosize=False, paper_bgcolor="white",
                  plot_bgcolor="rgba(0,0,0,0)", showlegend=False, annotations=annotations, shapes=shapes,
                  font=dict(family=FONT))
fig.write_html("out.html", config=dict(displayModeBar=False), post_script="document.body.style.margin='0';")
